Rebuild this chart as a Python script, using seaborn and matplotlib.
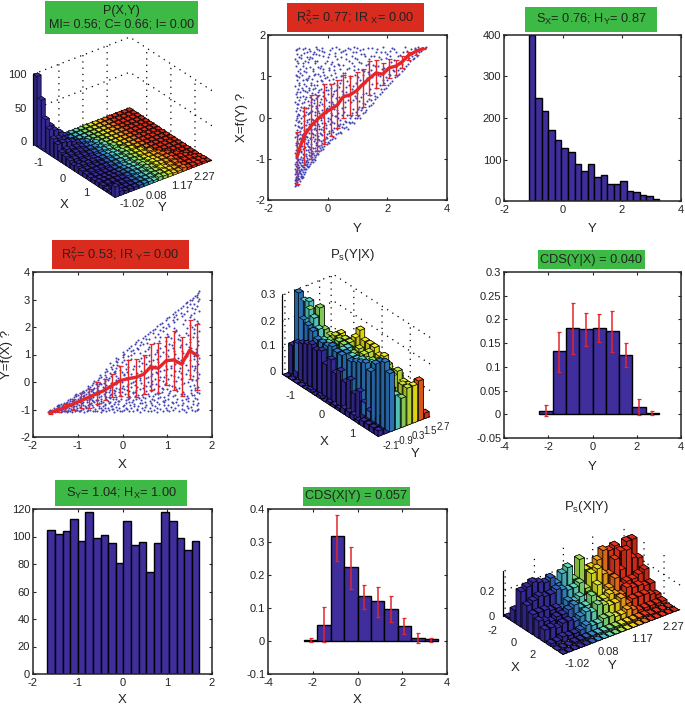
import numpy as np
import seaborn as sns
import matplotlib
matplotlib.use('Agg')
import matplotlib.pyplot as plt
from matplotlib.patches import Rectangle
from mpl_toolkits.mplot3d import proj3d

# Histogram values
y_hist_counts = [400, 248, 218, 172, 148, 127, 118, 88, 72, 90, 58, 62, 42, 42, 48, 25, 22, 14, 12, 5]
x_hist_counts = [105, 102, 104, 113, 97, 118, 99, 101, 95, 81, 111, 94, 96, 74, 95, 118, 111, 99, 90, 97]

# CDS bars and their error limits
cds_yx_centers = [-2.1, -1.5, -0.9, -0.3, 0.3, 0.9, 1.5, 2.1, 2.7]
cds_yx_values = [0.007, 0.133, 0.181, 0.179, 0.181, 0.175, 0.126, 0.016, 0.002]
cds_yx_high = [0.019, 0.174, 0.234, 0.214, 0.212, 0.218, 0.150, 0.032, 0.006]
cds_yx_low = [-0.004, 0.090, 0.127, 0.143, 0.152, 0.132, 0.100, -0.002, -0.001]

cds_xy_centers = [-2.1, -1.5, -0.9, -0.3, 0.3, 0.9, 1.5, 2.1, 2.7, 3.3]
cds_xy_values = [0.002, 0.050, 0.317, 0.224, 0.136, 0.120, 0.098, 0.044, 0.010, 0.005]
cds_xy_high = [0.009, 0.104, 0.383, 0.286, 0.170, 0.163, 0.135, 0.069, 0.025, 0.008]
cds_xy_low = [-0.004, -0.002, 0.242, 0.157, 0.098, 0.072, 0.058, 0.021, -0.005, -0.003]

# Red curves with error bars
fit_x_pos = [-1.03, -0.8, -0.55, -0.35, -0.12, 0.1, 0.32, 0.52, 0.75, 0.97, 1.17, 1.4, 1.62, 1.85, 2.05, 2.3, 2.5, 2.7, 2.95, 3.2]
fit_x_mean = [-0.95, -0.45, -0.2, -0.05, 0.1, 0.2, 0.3, 0.5, 0.55, 0.65, 0.8, 0.95, 1.08, 1.05, 1.2, 1.25, 1.35, 1.5, 1.6, 1.67]
fit_x_low = [-1.6, -1.15, -1.0, -0.8, -0.65, -0.45, -0.25, -0.02, 0.05, 0.05, 0.25, 0.55, 0.72, 0.78, 0.95, 1.03, 1.2, 1.4, 1.52, 1.65]
fit_x_high = [-0.35, 0.22, 0.55, 0.55, 0.82, 0.82, 0.92, 1.02, 1.0, 1.1, 1.18, 1.37, 1.4, 1.32, 1.42, 1.4, 1.5, 1.6, 1.65, 1.69]

fit_y_pos = [-1.62, -1.45, -1.28, -1.1, -0.93, -0.75, -0.58, -0.4, -0.23, -0.05, 0.12, 0.3, 0.47, 0.63, 0.8, 0.98, 1.15, 1.32, 1.5, 1.67]
fit_y_mean = [-1.12, -1.02, -0.92, -0.8, -0.68, -0.55, -0.43, -0.3, -0.12, 0.05, 0.12, 0.17, 0.28, 0.55, 0.5, 0.78, 0.8, 0.65, 1.15, 0.95]
fit_y_low = [-1.15, -1.1, -1.05, -1.0, -0.95, -0.95, -0.8, -0.65, -0.55, -0.5, -0.55, -0.55, -0.45, -0.3, -0.4, -0.1, -0.3, -0.5, 0.1, -0.28]
fit_y_high = [-1.1, -0.93, -0.8, -0.6, -0.4, -0.25, 0.0, 0.1, 0.3, 0.6, 0.8, 0.85, 1.0, 1.38, 1.42, 1.65, 1.85, 1.65, 2.25, 2.12]

# Cloud of points, (Y, X), estimated by eye; used in both scatter panels
cloud = [
    (-1.08,-1.66),(-1.07,-1.62),(-1.05,-1.64),(-1.09,-1.58),(-1.04,-1.6),(-1.06,-1.55),(-1.03,-1.57),(-1.08,-1.51),(-1.02,-1.52),(-1.05,-1.48),
    (-1.07,-1.44),(-1.01,-1.46),(-1.03,-1.42),(-1.09,-1.38),(-1.0,-1.5),(-0.99,-1.41),(-1.04,-1.35),(-1.06,-1.31),(-0.98,-1.37),(-1.02,-1.28),
    (-1.08,-1.24),(-0.97,-1.33),(-1.0,-1.22),(-1.05,-1.18),(-0.96,-1.27),(-1.03,-1.12),(-0.99,-1.15),(-1.07,-1.07),(-0.95,-1.2),(-1.01,-1.03),
    (-1.06,-0.98),(-0.97,-1.08),(-1.03,-0.92),(-0.94,-1.01),(-1.08,-0.86),(-0.99,-0.88),(-1.05,-0.79),(-0.96,-0.82),(-1.02,-0.72),(-0.93,-0.76),
    (-1.07,-0.66),(-0.98,-0.62),(-1.04,-0.57),(-0.95,-0.53),(-1.09,-0.48),(-1.0,-0.43),(-1.06,-0.37),(-0.94,-0.39),(-1.03,-0.3),(-0.97,-0.24),
    (-1.08,-0.18),(-1.0,-0.12),(-1.05,-0.05),(-0.95,-0.08),(-1.02,0.03),(-0.98,0.09),(-1.07,0.15),(-0.93,0.18),(-1.04,0.24),(-0.99,0.32),
    (-1.09,0.38),(-0.96,0.43),(-1.03,0.49),(-1.06,0.57),(-0.94,0.62),(-1.01,0.7),(-1.08,0.76),(-0.97,0.83),(-1.04,0.91),(-0.95,0.97),
    (-1.07,1.04),(-1.0,1.12),(-0.93,1.18),(-1.05,1.26),(-0.98,1.33),(-1.08,1.41),(-0.95,1.47),(-1.02,1.55),(-1.06,1.63),(-0.97,1.69),
    (-0.87,-1.47),(-0.85,-1.41),(-0.83,-1.44),(-0.88,-1.36),(-0.82,-1.33),(-0.79,-1.37),(-0.86,-1.28),(-0.77,-1.31),(-0.84,-1.21),(-0.8,-1.24),
    (-0.89,-1.15),(-0.75,-1.26),(-0.81,-1.11),(-0.86,-1.04),(-0.76,-1.13),(-0.83,-0.97),(-0.78,-0.91),(-0.88,-0.84),(-0.74,-0.94),(-0.82,-0.77),
    (-0.85,-0.69),(-0.77,-0.71),(-0.8,-0.58),(-0.87,-0.52),(-0.75,-0.47),(-0.83,-0.39),(-0.78,-0.31),(-0.86,-0.23),(-0.74,-0.17),(-0.81,-0.09),
    (-0.88,0.0),(-0.76,0.07),(-0.84,0.16),(-0.79,0.26),(-0.86,0.35),(-0.75,0.44),(-0.82,0.53),(-0.77,0.64),(-0.87,0.72),(-0.8,0.82),
    (-0.74,0.93),(-0.85,1.02),(-0.78,1.13),(-0.83,1.24),(-0.76,1.36),(-0.88,1.45),(-0.81,1.57),(-0.75,1.68),
    (-0.72,-1.24),(-0.7,-1.18),(-0.66,-1.21),(-0.68,-1.12),(-0.63,-1.17),(-0.71,-1.05),(-0.65,-1.08),(-0.6,-1.13),(-0.69,-0.97),(-0.62,-1.0),
    (-0.72,-0.88),(-0.64,-0.9),(-0.59,-0.94),(-0.67,-0.79),(-0.61,-0.72),(-0.7,-0.65),(-0.58,-0.77),(-0.65,-0.55),(-0.71,-0.44),(-0.6,-0.49),
    (-0.68,-0.33),(-0.63,-0.22),(-0.57,-0.28),(-0.7,-0.11),(-0.61,-0.03),(-0.66,0.08),(-0.58,0.14),(-0.72,0.22),(-0.62,0.31),(-0.67,0.41),
    (-0.59,0.5),(-0.7,0.61),(-0.64,0.71),(-0.57,0.79),(-0.68,0.9),(-0.61,1.01),(-0.71,1.11),(-0.6,1.22),(-0.66,1.34),(-0.58,1.46),(-0.69,1.58),(-0.63,1.67),
    (-0.55,-1.08),(-0.52,-1.03),(-0.49,-1.07),(-0.54,-0.96),(-0.47,-1.0),(-0.44,-1.04),(-0.51,-0.89),(-0.45,-0.92),(-0.41,-0.95),(-0.53,-0.8),
    (-0.48,-0.73),(-0.42,-0.82),(-0.55,-0.65),(-0.46,-0.58),(-0.5,-0.48),(-0.4,-0.63),(-0.53,-0.37),(-0.43,-0.42),(-0.47,-0.27),(-0.55,-0.15),
    (-0.41,-0.18),(-0.49,-0.06),(-0.44,0.05),(-0.52,0.15),(-0.4,0.24),(-0.46,0.35),(-0.54,0.46),(-0.42,0.57),(-0.5,0.69),(-0.45,0.8),(-0.53,0.93),
    (-0.41,1.05),(-0.48,1.18),(-0.43,1.31),(-0.51,1.44),(-0.46,1.59),(-0.4,1.7),
    (-0.38,-0.9),(-0.35,-0.85),(-0.31,-0.89),(-0.37,-0.78),(-0.28,-0.82),(-0.33,-0.7),(-0.26,-0.75),(-0.36,-0.6),(-0.29,-0.55),(-0.24,-0.66),
    (-0.34,-0.45),(-0.27,-0.38),(-0.38,-0.3),(-0.3,-0.2),(-0.23,-0.27),(-0.35,-0.08),(-0.26,0.03),(-0.32,0.15),(-0.38,0.28),(-0.25,0.38),
    (-0.33,0.52),(-0.28,0.66),(-0.36,0.79),(-0.24,0.9),(-0.31,1.06),(-0.27,1.2),(-0.35,1.36),(-0.29,1.52),(-0.37,1.66),
    (-0.21,-0.78),(-0.18,-0.72),(-0.14,-0.76),(-0.2,-0.63),(-0.11,-0.68),(-0.16,-0.55),(-0.08,-0.6),(-0.19,-0.43),(-0.12,-0.36),(-0.06,-0.48),
    (-0.17,-0.24),(-0.09,-0.14),(-0.21,-0.02),(-0.13,0.1),(-0.05,0.2),(-0.18,0.33),(-0.1,0.47),(-0.15,0.61),(-0.07,0.75),(-0.2,0.88),(-0.12,1.03),
    (-0.17,1.17),(-0.08,1.33),(-0.14,1.5),(-0.19,1.68),
    (-0.03,-0.65),(0.0,-0.6),(0.05,-0.63),(-0.02,-0.5),(0.09,-0.55),(0.03,-0.38),(0.12,-0.42),(-0.04,-0.25),(0.07,-0.15),(0.01,-0.02),
    (0.11,0.1),(-0.01,0.24),(0.06,0.38),(0.13,0.52),(0.02,0.67),(0.09,0.82),(-0.03,0.98),(0.05,1.14),(0.12,1.3),(0.0,1.47),(0.08,1.64),
    (0.15,-0.52),(0.19,-0.47),(0.24,-0.5),(0.17,-0.36),(0.27,-0.4),(0.21,-0.25),(0.31,-0.28),(0.16,-0.1),(0.25,0.04),(0.3,0.18),
    (0.19,0.32),(0.28,0.48),(0.22,0.64),(0.32,0.78),(0.17,0.93),(0.26,1.08),(0.2,1.24),(0.3,1.41),(0.23,1.57),(0.29,1.7),
    (0.35,-0.38),(0.41,-0.34),(0.46,-0.37),(0.38,-0.2),(0.49,-0.24),(0.43,-0.06),(0.36,0.1),(0.47,0.24),(0.4,0.42),(0.51,0.58),
    (0.37,0.75),(0.45,0.92),(0.5,1.08),(0.39,1.27),(0.44,1.46),(0.52,1.62),
    (0.56,-0.26),(0.62,-0.22),(0.68,-0.27),(0.59,-0.08),(0.71,-0.12),(0.64,0.07),(0.57,0.26),(0.69,0.43),(0.61,0.62),(0.72,0.8),
    (0.58,0.98),(0.66,1.17),(0.7,1.36),(0.6,1.55),(0.67,1.69),
    (0.76,-0.14),(0.82,-0.1),(0.88,-0.14),(0.79,0.04),(0.92,0.0),(0.85,0.2),(0.77,0.37),(0.9,0.52),(0.81,0.68),(0.94,0.84),
    (0.75,1.0),(0.87,1.14),(0.8,1.31),(0.93,1.45),(0.84,1.6),(0.89,1.7),
    (0.97,0.0),(1.03,0.03),(1.09,0.0),(1.0,0.2),(1.12,0.18),(1.05,0.4),(0.98,0.6),(1.1,0.78),(1.02,0.97),(1.14,1.15),(1.06,1.35),(1.11,1.54),(0.99,1.68),
    (1.18,0.1),(1.24,0.14),(1.3,0.18),(1.2,0.35),(1.33,0.4),(1.27,0.6),(1.17,0.78),(1.31,0.95),(1.22,1.12),(1.35,1.3),(1.26,1.48),(1.19,1.65),
    (1.39,0.27),(1.46,0.3),(1.52,0.35),(1.42,0.55),(1.55,0.6),(1.48,0.82),(1.38,1.05),(1.53,1.28),(1.44,1.5),(1.5,1.68),
    (1.6,0.45),(1.67,0.5),(1.74,0.56),(1.63,0.72),(1.76,0.8),(1.69,1.02),(1.58,1.25),(1.72,1.46),(1.65,1.66),
    (1.82,0.62),(1.88,0.68),(1.94,0.72),(1.84,0.9),(1.97,0.98),(1.9,1.2),(1.8,1.42),(1.93,1.6),(1.86,1.7),
    (2.02,0.78),(2.1,0.83),(2.16,0.88),(2.05,1.05),(2.18,1.15),(2.12,1.35),(2.0,1.55),(2.14,1.68),
    (2.25,0.97),(2.32,1.0),(2.38,1.05),(2.28,1.22),(2.4,1.32),(2.35,1.5),(2.22,1.66),
    (2.48,1.12),(2.55,1.17),(2.46,1.38),(2.6,1.45),(2.52,1.6),(2.58,1.7),
    (2.68,1.3),(2.75,1.36),(2.7,1.55),(2.82,1.5),(2.78,1.66),
    (2.9,1.45),(2.97,1.55),(2.93,1.68),(3.05,1.58),(3.02,1.7),(3.12,1.62),(3.18,1.66),(3.25,1.68),(3.3,1.7),
]
# Second pass over the same cloud, filling the gaps left by the first one
cloud_fill = [
    (-1.01,-1.63),(-0.93,-1.53),(-1.06,-1.47),(-0.91,-1.44),(-0.97,-1.48),(-1.03,-1.38),(-0.92,-1.34),(-0.88,-1.42),(-1.07,-1.29),(-0.94,-1.29),
    (-0.9,-1.24),(-1.04,-1.21),(-0.85,-1.17),(-0.92,-1.11),(-1.09,-1.13),(-0.78,-1.19),(-0.87,-1.09),(-1.0,-1.01),(-0.73,-1.09),(-0.91,-0.95),
    (-0.69,-1.04),(-0.79,-1.02),(-1.04,-0.96),(-0.84,-0.89),(-0.63,-0.83),(-0.91,-0.81),(-0.72,-0.79),(-0.55,-0.87),(-1.0,-0.77),(-0.8,-0.73),
    (-0.66,-0.69),(-0.48,-0.85),(-0.92,-0.67),(-0.74,-0.63),(-0.57,-0.71),(-1.05,-0.61),(-0.84,-0.57),(-0.43,-0.74),(-0.65,-0.6),(-0.38,-0.66),
    (-0.94,-0.49),(-0.76,-0.53),(-0.55,-0.53),(-0.29,-0.69),(-0.43,-0.53),(-1.02,-0.45),(-0.87,-0.43),(-0.69,-0.47),(-0.32,-0.51),(-0.21,-0.58),
    (-0.5,-0.4),(-0.8,-0.38),(-0.62,-0.37),(-0.94,-0.32),(-0.37,-0.37),(-0.23,-0.41),(-0.09,-0.52),(-0.72,-0.27),(-0.55,-0.3),(-0.88,-0.25),
    (-0.44,-0.26),(-0.28,-0.29),(-0.02,-0.41),(-0.15,-0.31),(-0.99,-0.21),(-0.79,-0.19),(-0.62,-0.15),(-0.47,-0.16),(-0.33,-0.16),(-0.2,-0.14),
    (0.06,-0.33),(-0.06,-0.18),(-0.91,-0.14),(-0.69,-0.07),(-0.52,-0.03),(-0.37,-0.02),(-0.24,-0.07),(0.13,-0.3),(0.02,-0.09),(-1.04,-0.02),
    (-0.83,0.03),(-0.61,0.12),(-0.43,0.13),(-0.29,0.1),(-0.14,0.02),(0.09,-0.04),(0.22,-0.14),(0.33,-0.17),(-0.96,0.07),(-0.73,0.14),
    (-0.52,0.27),(-0.35,0.23),(-0.19,0.18),(-0.07,0.12),(0.15,0.07),(0.29,0.03),(0.41,-0.16),(0.52,-0.15),(-0.89,0.25),(-0.66,0.24),
    (-0.46,0.43),(-0.28,0.31),(-0.12,0.27),(0.04,0.28),(0.2,0.21),(0.36,-0.01),(0.48,0.07),(0.63,-0.12),(-1.02,0.33),(-0.78,0.38),
    (-0.57,0.37),(-0.39,0.48),(-0.21,0.45),(-0.04,0.42),(0.14,0.38),(0.33,0.33),(0.55,0.13),(0.74,-0.02),(-0.92,0.5),(-0.71,0.5),
    (-0.51,0.6),(-0.32,0.63),(-0.16,0.53),(0.01,0.56),(0.18,0.58),(0.39,0.5),(0.58,0.37),(0.81,0.12),(0.95,0.13),(-1.04,0.63),
    (-0.83,0.66),(-0.62,0.67),(-0.42,0.72),(-0.24,0.7),(-0.06,0.66),(0.1,0.72),(0.28,0.67),(0.47,0.65),(0.67,0.53),(0.86,0.42),
    (1.04,0.26),(1.16,0.24),(-0.95,0.78),(-0.73,0.76),(-0.55,0.84),(-0.36,0.88),(-0.14,0.82),(0.03,0.9),(0.2,0.84),(0.41,0.83),
    (0.6,0.73),(0.78,0.6),(0.96,0.47),(1.12,0.5),(1.25,0.32),(-1.03,1.0),(-0.84,0.92),(-0.65,0.96),(-0.46,1.02),(-0.26,1.0),
    (-0.09,0.96),(0.1,1.02),(0.27,0.97),(0.46,1.0),(0.66,0.88),(0.84,0.76),(1.02,0.72),(1.2,0.58),(1.37,0.46),(1.45,0.42),
    (-0.92,1.09),(-0.72,1.2),(-0.5,1.12),(-0.33,1.22),(-0.15,1.1),(0.03,1.2),(0.22,1.14),(0.4,1.17),(0.58,1.08),(0.76,0.95),
    (0.93,1.02),(1.08,0.9),(1.25,0.84),(1.41,0.7),(1.57,0.52),(-1.02,1.38),(-0.83,1.33),(-0.63,1.42),(-0.44,1.38),(-0.22,1.26),
    (-0.03,1.38),(0.15,1.34),(0.33,1.3),(0.5,1.28),(0.71,1.2),(0.89,1.25),(1.03,1.18),(1.18,1.02),(1.34,1.1),(1.5,0.98),
    (1.64,0.84),(1.78,0.68),(-0.91,1.52),(-0.7,1.47),(-0.49,1.55),(-0.3,1.63),(-0.11,1.59),(0.06,1.55),(0.25,1.5),(0.44,1.6),
    (0.63,1.42),(0.8,1.5),(0.97,1.42),(1.12,1.32),(1.28,1.28),(1.45,1.14),(1.61,1.08),(1.75,1.0),(1.88,0.83),(2.0,0.9),
    (-1.03,1.66),(-0.84,1.66),(-0.59,1.62),(-0.39,1.53),(-0.2,1.62),(0.13,1.68),(0.37,1.66),(0.57,1.63),(0.75,1.66),(0.95,1.6),
    (1.08,1.64),(1.23,1.54),(1.39,1.42),(1.55,1.5),(1.7,1.26),(1.83,1.18),(1.98,1.14),(2.1,1.02),(2.24,1.12),(2.36,1.15),
    (1.34,1.68),(1.62,1.58),(1.78,1.6),(1.96,1.44),(2.08,1.5),(2.24,1.4),(2.42,1.2),(2.5,1.3),(2.62,1.25),(2.72,1.45),
    (2.08,1.62),(2.3,1.6),(2.44,1.52),(2.66,1.62),(2.86,1.42),(2.85,1.6),(3.0,1.5),(3.08,1.67),
]
cloud_y = [p[0] for p in cloud + cloud_fill]
cloud_x = [p[1] for p in cloud + cloud_fill]

# P(X,Y) counts, one row per X bin, Y bins from low to high (rest of each row is 0)
joint_rows = [
    [100, 5],
    [70, 32],
    [46, 34, 24],
    [36, 32, 26, 19],
    [26, 24, 20, 15, 12],
    [22, 22, 20, 18, 14, 12, 10],
    [14, 16, 14, 14, 12, 10, 9, 10],
    [12, 12, 13, 12, 10, 10, 10, 7, 8],
    [10, 10, 10, 10, 10, 9, 9, 7, 6, 8],
    [7, 7, 8, 8, 7, 7, 7, 6, 5, 5, 5],
    [9, 9, 9, 9, 8, 8, 8, 7, 6, 7, 6, 6],
    [7, 7, 7, 7, 7, 7, 6, 6, 5, 7, 5, 5, 5],
    [6, 7, 7, 7, 7, 6, 6, 6, 6, 6, 5, 5, 4, 5],
    [5, 5, 5, 5, 5, 5, 5, 4, 4, 6, 4, 4, 4, 4, 3],
    [5, 5, 5, 5, 5, 5, 6, 5, 5, 6, 4, 5, 4, 4, 5, 4],
    [6, 6, 6, 6, 6, 6, 6, 6, 5, 7, 5, 6, 5, 5, 5, 4, 4],
    [5, 6, 6, 6, 5, 6, 6, 5, 5, 7, 5, 6, 5, 5, 6, 4, 4, 3],
    [4, 5, 5, 5, 5, 4, 5, 4, 4, 5, 4, 5, 3, 4, 5, 3, 3, 3, 2],
    [3, 4, 4, 4, 4, 4, 4, 4, 4, 5, 4, 4, 4, 3, 4, 3, 3, 2, 2, 1],
    [15, 6, 4, 4, 4, 4, 4, 4, 3, 5, 4, 4, 3, 3, 5, 3, 3, 3, 3, 1],
]

# Ps(Y|X): one row per X bin (20), one column per Y bin (9)
ps_yx = [
    [0.00, 0.11, 0.33, 0.26, 0.22, 0.08, 0.00, 0.00, 0.00],
    [0.00, 0.13, 0.21, 0.27, 0.20, 0.15, 0.04, 0.00, 0.00],
    [0.00, 0.14, 0.20, 0.22, 0.25, 0.14, 0.05, 0.00, 0.00],
    [0.00, 0.15, 0.19, 0.19, 0.18, 0.15, 0.12, 0.02, 0.00],
    [0.00, 0.16, 0.17, 0.16, 0.15, 0.16, 0.16, 0.04, 0.00],
    [0.01, 0.15, 0.17, 0.16, 0.14, 0.16, 0.15, 0.05, 0.00],
    [0.00, 0.16, 0.17, 0.16, 0.17, 0.17, 0.13, 0.04, 0.00],
    [0.01, 0.12, 0.18, 0.15, 0.17, 0.17, 0.18, 0.02, 0.00],
    [0.00, 0.15, 0.17, 0.17, 0.17, 0.14, 0.22, 0.01, 0.00],
    [0.01, 0.11, 0.17, 0.19, 0.16, 0.17, 0.19, 0.01, 0.00],
    [0.01, 0.13, 0.19, 0.17, 0.15, 0.16, 0.19, 0.01, 0.00],
    [0.01, 0.10, 0.17, 0.17, 0.16, 0.18, 0.19, 0.02, 0.00],
    [0.02, 0.12, 0.18, 0.18, 0.17, 0.15, 0.17, 0.01, 0.00],
    [0.02, 0.08, 0.19, 0.17, 0.18, 0.17, 0.18, 0.01, 0.00],
    [0.02, 0.10, 0.20, 0.19, 0.15, 0.17, 0.10, 0.02, 0.00],
    [0.01, 0.07, 0.18, 0.16, 0.19, 0.18, 0.12, 0.02, 0.00],
    [0.02, 0.05, 0.22, 0.15, 0.18, 0.15, 0.14, 0.02, 0.01],
    [0.02, 0.05, 0.24, 0.15, 0.12, 0.18, 0.13, 0.05, 0.01],
    [0.02, 0.04, 0.25, 0.14, 0.10, 0.14, 0.13, 0.12, 0.01],
    [0.02, 0.06, 0.22, 0.13, 0.11, 0.14, 0.14, 0.15, 0.02],
]

# Ps(X|Y): one row per X bin (10), one column per Y bin (20)
ps_xy = [
    [0.01, 0.00, 0.00, 0.01, 0.01, 0.00, 0.00, 0.00, 0.00, 0.01, 0.00, 0.00, 0.00, 0.00, 0.00, 0.00, 0.00, 0.00, 0.00, 0.00],
    [0.10, 0.08, 0.06, 0.09, 0.11, 0.08, 0.05, 0.07, 0.04, 0.05, 0.03, 0.02, 0.06, 0.03, 0.02, 0.00, 0.00, 0.00, 0.00, 0.00],
    [0.28, 0.30, 0.32, 0.30, 0.28, 0.30, 0.24, 0.30, 0.33, 0.22, 0.36, 0.26, 0.26, 0.30, 0.38, 0.34, 0.44, 0.30, 0.40, 0.42],
    [0.20, 0.22, 0.24, 0.22, 0.22, 0.24, 0.22, 0.20, 0.20, 0.22, 0.16, 0.26, 0.28, 0.22, 0.20, 0.30, 0.20, 0.34, 0.26, 0.24],
    [0.16, 0.16, 0.16, 0.14, 0.14, 0.12, 0.16, 0.14, 0.16, 0.12, 0.14, 0.20, 0.12, 0.14, 0.20, 0.12, 0.14, 0.14, 0.16, 0.18],
    [0.14, 0.12, 0.10, 0.12, 0.12, 0.14, 0.16, 0.12, 0.12, 0.18, 0.12, 0.12, 0.14, 0.12, 0.10, 0.14, 0.12, 0.12, 0.10, 0.10],
    [0.10, 0.10, 0.08, 0.10, 0.10, 0.08, 0.10, 0.12, 0.10, 0.14, 0.12, 0.10, 0.10, 0.12, 0.06, 0.08, 0.08, 0.08, 0.06, 0.04],
    [0.02, 0.02, 0.04, 0.03, 0.03, 0.04, 0.06, 0.04, 0.04, 0.06, 0.06, 0.04, 0.04, 0.06, 0.04, 0.02, 0.02, 0.02, 0.02, 0.02],
    [0.00, 0.00, 0.00, 0.01, 0.01, 0.01, 0.01, 0.01, 0.01, 0.01, 0.01, 0.01, 0.01, 0.01, 0.01, 0.01, 0.00, 0.00, 0.00, 0.00],
    [0.00, 0.00, 0.00, 0.00, 0.00, 0.00, 0.00, 0.00, 0.00, 0.00, 0.00, 0.00, 0.00, 0.00, 0.00, 0.00, 0.00, 0.00, 0.00, 0.00],
]

W, H = 685, 706
BAR_BLUE = '#3f2e9b'
RED = '#e3262a'
GREEN_BOX = '#3dba45'
RED_BOX = '#da2b1f'
TEXT_C = '#222222'

# colour per Y bin, low to high
wide_stops = ['#3a2d9e', '#3a2d9e', '#3a2d9e', '#2f7cc6', '#5ad6cc', '#8fdc60', '#f4ea1c', '#f59a1e', '#e8321c', '#e8321c', '#d82a16']
ps_yx_colors = ['#3a2d9e', '#3a2d9e', '#2f7cc6', '#5ad6cc', '#8fdc60', '#c4e63a', '#f4ea1c', '#f0601c', '#e8321c']

sns.set_style('ticks')
plt.rcParams['font.family'] = ['Liberation Sans', 'DejaVu Sans']
plt.rcParams['mathtext.default'] = 'regular'
plt.rcParams['axes.unicode_minus'] = False
plt.rcParams['grid.linestyle'] = (0, (1, 4))
plt.rcParams['grid.color'] = 'black'
plt.rcParams['grid.linewidth'] = 0.9

fig = plt.figure(figsize=(W / 100, H / 100), dpi=100, facecolor='white')


def put_text(px, py, s, size=8.5, ha='center', va='center'):
    fig.text(px / W, 1 - py / H, s, fontsize=size, ha=ha, va=va, color=TEXT_C)


def title_box(left, top, right, bottom, color, lines, size=9.2):
    fig.patches.append(Rectangle((left / W, 1 - bottom / H), (right - left) / W, (bottom - top) / H,
                                 transform=fig.transFigure, facecolor=color, edgecolor='none', figure=fig))
    put_text((left + right) / 2, (top + bottom) / 2, lines, size=size)


def flat_axes(left, top, right, bottom, xlim, ylim, xticks, yticks, ylabels=None):
    ax = fig.add_axes([left / W, 1 - bottom / H, (right - left) / W, (bottom - top) / H])
    ax.set_xlim(xlim)
    ax.set_ylim(ylim)
    ax.set_xticks(xticks)
    ax.set_xticklabels([str(t) for t in xticks])
    ax.set_yticks(yticks)
    ax.set_yticklabels(ylabels if ylabels else [str(t) for t in yticks])
    ax.tick_params(direction='in', length=2, width=0.8, top=True, right=True, labelsize=8, labelcolor=TEXT_C)
    ax.tick_params(axis='x', pad=3)
    ax.tick_params(axis='y', pad=2)
    for side in ax.spines.values():
        side.set_visible(True)
        side.set_linewidth(1.1)
    return ax


def hist_panel(ax, centers, weights, edges):
    sns.histplot(x=list(centers), weights=list(weights), bins=list(edges), color=BAR_BLUE, alpha=1, edgecolor='black', linewidth=1, ax=ax)
    ax.set_ylabel('')


def scatter_panel(ax, xs, ys, pos, mean, low, high):
    sns.scatterplot(x=xs, y=ys, s=2.2, color='#4040b4', linewidth=0, ax=ax)
    mean_arr = np.array(mean)
    err = [mean_arr - np.array(low), np.array(high) - mean_arr]
    ax.errorbar(pos, mean, yerr=err, fmt='none', ecolor=RED, elinewidth=1, capsize=1.8, capthick=0.9)
    sns.lineplot(x=pos, y=mean, color=RED, linewidth=2.4, sort=False, ax=ax)


def bars_3d(matrix, x_edges, y_edges, zlim, aspect, corners, xticks, yticks, zticks, col_colors, fill=0.82, edge=0.45):
    ax = fig.add_axes([0.1, 0.1, 0.3, 0.3], projection='3d')
    ax.set_proj_type('ortho')
    ax.view_init(elev=30, azim=-37.5)
    ax.set_box_aspect(aspect)
    ax.patch.set_alpha(0)
    mat = np.array(matrix, dtype=float)
    dx = x_edges[1] - x_edges[0]
    dy = y_edges[1] - y_edges[0]
    xpos, ypos = np.meshgrid(x_edges[:-1], y_edges[:-1], indexing='ij')
    # each bar has 6 faces: bottom, top, then the sides; sides a little darker
    base = np.repeat(np.array(col_colors)[np.newaxis, :, :], mat.shape[0], axis=0).reshape(-1, 3)
    shade = np.array([1.0, 1.0, 0.8, 0.8, 0.9, 0.9])
    faces = (base[:, np.newaxis, :] * shade[np.newaxis, :, np.newaxis]).reshape(-1, 3)
    ax.bar3d(xpos.ravel() + dx * (1 - fill) / 2, ypos.ravel() + dy * (1 - fill) / 2, 0, dx * fill, dy * fill,
             np.minimum(mat.ravel(), zlim[1]), color=faces, edgecolor='black', linewidth=edge, shade=False)
    ax.set_xlim(x_edges[0], x_edges[-1])
    ax.set_ylim(y_edges[0], y_edges[-1])
    ax.set_zlim(zlim)
    ax.set_xticks(xticks)
    ax.set_yticks(yticks)
    ax.set_zticks(zticks)
    ax.set_xticklabels([])
    ax.set_yticklabels([])
    ax.set_zticklabels([])
    ax.grid(True)
    for axis in (ax.xaxis, ax.yaxis, ax.zaxis):
        axis.set_pane_color((1, 1, 1, 0))
        axis.line.set_color((0, 0, 0, 0))
        axis._axinfo['tick']['color'] = (0, 0, 0, 0)
    ax.tick_params(length=0, color=(0, 0, 0, 0))
    ax.plot([x_edges[0]] * 2, [y_edges[0]] * 2, zlim, color='black', linewidth=0.9)

    # move the axes so the floor corners land where they are in the picture
    left, right, front = corners
    pts_x = [x_edges[0], x_edges[-1], x_edges[-1]]
    pts_y = [y_edges[0], y_edges[-1], y_edges[0]]
    for _ in range(3):
        ax.apply_aspect()
        px, py, _z = proj3d.proj_transform(np.array(pts_x), np.array(pts_y), np.zeros(3), ax.get_proj())
        screen = ax.transData.transform(np.column_stack([px, py]))
        scale = (right[0] - left[0]) / (screen[1, 0] - screen[0, 0])
        pos = ax.get_position(original=True)
        size = pos.width * W * scale
        cx = (pos.x0 + pos.width / 2) * W
        cy = (pos.y0 + pos.height / 2) * H
        off_x = (screen[2, 0] - cx) * scale
        off_y = (screen[2, 1] - cy) * scale
        new_cx = front[0] - off_x
        new_cy = (H - front[1]) - off_y
        ax.set_position([(new_cx - size / 2) / W, (new_cy - size / 2) / H, size / W, size / H])
    return ax


# ---- top row ----
y_edges_3d = np.linspace(-1.1, 3.3, 21)
y_edges_hist = np.linspace(-1.16, 3.27, 21)
x_edges_hist = np.linspace(-1.68, 1.72, 21)
wide_colors = sns.blend_palette(wide_stops, n_colors=20)

bars_3d(np.array([r + [0] * (20 - len(r)) for r in joint_rows]), np.linspace(-1.7, 1.7, 21), y_edges_3d, (0, 100),
        (134.7, 122, 81), ((33, 145), (212, 157), (115, 198)), [-1, 0, 1], [-1.02, 0.08, 1.17, 2.27], [0, 50, 100],
        wide_colors, edge=0.35)
title_box(45, 1, 198, 34, GREEN_BOX, 'P(X,Y)\nMI= 0.56; C= 0.66; I= 0.00', size=9)
for px, py, s in [(38, 163, '-1'), (63, 179, '0'), (86, 193, '1'), (132, 204, '-1.02'), (156, 196, '0.08'), (182, 186, '1.17'), (204, 177, '2.27')]:
    put_text(px, py, s, size=8)
for py, s in [(75, '100'), (109, '50'), (142, '0')]:
    put_text(27, py, s, size=8, ha='right')
put_text(64, 205, 'X', size=9.5)
put_text(162, 208, 'Y', size=9.5)

ax2 = flat_axes(268, 35, 447, 200, (-2, 4), (-2, 2), [-2, 0, 2, 4], [-2, -1, 0, 1, 2])
scatter_panel(ax2, cloud_y, cloud_x, fit_x_pos, fit_x_mean, fit_x_low, fit_x_high)
ax2.set_xlabel('Y', fontsize=9.5, labelpad=6, color=TEXT_C)
ax2.set_ylabel('X=f(Y) ?', fontsize=9.5, labelpad=5, color=TEXT_C)
title_box(287, 3, 424, 32, RED_BOX, r'R$_{X}^{2}$= 0.77; IR $_{X}$= 0.00')

ax3 = flat_axes(504, 35, 681, 201, (-2, 4), (0, 400), [-2, 0, 2, 4], [0, 100, 200, 300, 400])
hist_panel(ax3, (y_edges_hist[:-1] + y_edges_hist[1:]) / 2, y_hist_counts, y_edges_hist)
ax3.set_xlabel('Y', fontsize=9.5, labelpad=6, color=TEXT_C)
title_box(525, 7, 657, 32, GREEN_BOX, r'S$_{X}$= 0.76; H$_{Y}$= 0.87')

# ---- middle row ----
ax4 = flat_axes(33, 272, 212, 437, (-2, 2), (-2, 4), [-2, -1, 0, 1, 2], [-2, -1, 0, 1, 2, 3, 4])
scatter_panel(ax4, cloud_x, cloud_y, fit_y_pos, fit_y_mean, fit_y_low, fit_y_high)
ax4.set_xlabel('X', fontsize=9.5, labelpad=6, color=TEXT_C)
ax4.set_ylabel('Y=f(X) ?', fontsize=9.5, labelpad=5, color=TEXT_C)
title_box(52, 240, 189, 269, RED_BOX, r'R$_{Y}^{2}$= 0.53; IR $_{Y}$= 0.00')

bars_3d(ps_yx, np.linspace(-1.7, 1.7, 21), np.linspace(-2.4, 3.0, 10), (0, 0.3),
        (157.7, 65.6, 92), ((282, 375), (430, 413), (378, 437)), [-1, 0, 1], [-2.1, -0.9, 0.3, 1.5, 2.7], [0, 0.1, 0.2, 0.3],
        [matplotlib.colors.to_rgb(c) for c in ps_yx_colors])
put_text(353, 255, r'P$_{s}$(Y|X)', size=9.5)
for px, py, s in [(290, 396, '-1'), (322, 415, '0'), (352, 434, '1')]:
    put_text(px, py, s, size=8)
for px, py, s in [(391, 446, '-2.1'), (405, 441, '-0.9'), (418, 436, '0.3'), (430, 431, '1.5'), (443, 427, '2.7')]:
    put_text(px, py, s, size=7)
for py, s in [(372, '0'), (346, '0.1'), (322, '0.2'), (295, '0.3')]:
    put_text(276, py, s, size=8, ha='right')
put_text(324, 442, 'X', size=9.5)
put_text(415, 454, 'Y', size=9.5)

ax6 = flat_axes(504, 272, 681, 438, (-4, 4), (-0.05, 0.3), [-4, -2, 0, 2, 4], [-0.05, 0, 0.05, 0.1, 0.15, 0.2, 0.25, 0.3],
                ['-0.05', '0', '0.05', '0.1', '0.15', '0.2', '0.25', '0.3'])
hist_panel(ax6, cds_yx_centers, cds_yx_values, np.linspace(-2.4, 3.0, 10))
ax6.errorbar(cds_yx_centers, cds_yx_values, yerr=[np.array(cds_yx_values) - np.array(cds_yx_low), np.array(cds_yx_high) - np.array(cds_yx_values)],
             fmt='none', ecolor=RED, elinewidth=1.1, capsize=1.6, capthick=0.9)
ax6.set_xlabel('Y', fontsize=9.5, labelpad=6, color=TEXT_C)
title_box(538, 250, 645, 269, GREEN_BOX, 'CDS(Y|X) = 0.040')

# ---- bottom row ----
ax7 = flat_axes(33, 509, 212, 674, (-2, 2), (0, 120), [-2, -1, 0, 1, 2], [0, 20, 40, 60, 80, 100, 120])
hist_panel(ax7, (x_edges_hist[:-1] + x_edges_hist[1:]) / 2, x_hist_counts, x_edges_hist)
ax7.set_xlabel('X', fontsize=9.5, labelpad=4, color=TEXT_C)
title_box(55, 480, 187, 506, GREEN_BOX, r'S$_{Y}$= 1.04; H$_{X}$= 1.00')

ax8 = flat_axes(268, 509, 447, 674, (-4, 4), (-0.1, 0.4), [-4, -2, 0, 2, 4], [-0.1, 0, 0.1, 0.2, 0.3, 0.4],
                ['-0.1', '0', '0.1', '0.2', '0.3', '0.4'])
hist_panel(ax8, cds_xy_centers, cds_xy_values, np.linspace(-2.4, 3.6, 11))
ax8.errorbar(cds_xy_centers, cds_xy_values, yerr=[np.array(cds_xy_values) - np.array(cds_xy_low), np.array(cds_xy_high) - np.array(cds_xy_values)],
             fmt='none', ecolor=RED, elinewidth=1.1, capsize=1.6, capthick=0.9)
ax8.set_xlabel('X', fontsize=9.5, labelpad=4, color=TEXT_C)
title_box(303, 487, 410, 506, GREEN_BOX, 'CDS(X|Y) = 0.057')

bars_3d(ps_xy, np.linspace(-2.4, 3.6, 11), y_edges_3d, (0, 0.36),
        (98.5, 147.5, 52), ((503, 620), (680, 610), (563, 655)), [-2, 0, 2], [-1.02, 0.08, 1.17, 2.27], [0, 0.2],
        wide_colors)
put_text(587, 507, r'P$_{s}$(X|Y)', size=9.5)
for px, py, s in [(493, 631, '-2'), (514, 643, '0'), (533, 655, '2'), (577, 664, '-1.02'), (608, 652, '0.08'), (642, 639, '1.17'), (673, 627, '2.27')]:
    put_text(px, py, s, size=8)
for py, s in [(592, '0.2'), (617, '0')]:
    put_text(495, py, s, size=8, ha='right')
put_text(515, 668, 'X', size=9.5)
put_text(612, 666, 'Y', size=9.5)

fig.savefig('out.png', dpi=100, facecolor='white')
